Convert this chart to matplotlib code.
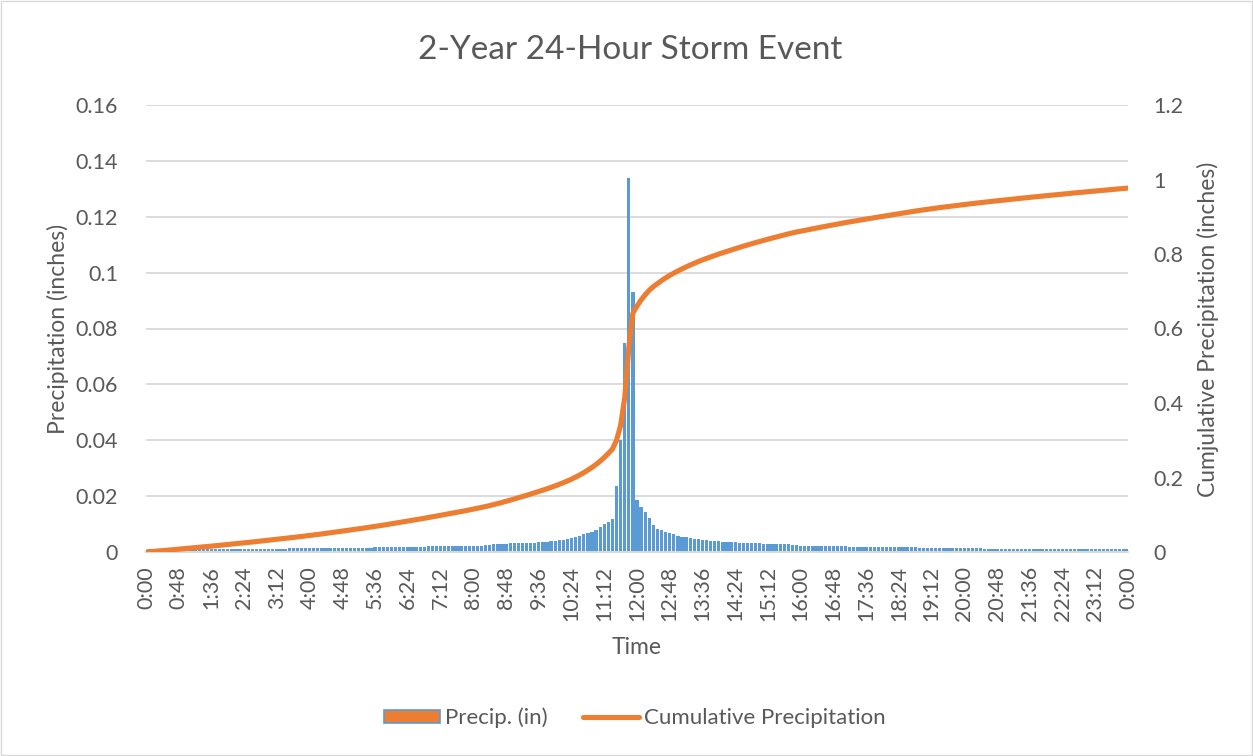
import numpy as np
import matplotlib
matplotlib.use("Agg")
import matplotlib.pyplot as plt
from matplotlib.patches import Patch, Rectangle
from matplotlib.lines import Line2D

# 6-minute rainfall increments (inches), 0:00 .. 24:00 (241 steps)
precip = [
    0.0,
    # 0:06 - 1:00
    0.0009, 0.0009, 0.0009, 0.0009, 0.0010, 0.0010, 0.0010, 0.0010, 0.0010, 0.0010,
    # 1:06 - 2:00
    0.0010, 0.0010, 0.0010, 0.0010, 0.0010, 0.0011, 0.0011, 0.0011, 0.0011, 0.0011,
    # 2:06 - 3:00
    0.0011, 0.0011, 0.0011, 0.0011, 0.0012, 0.0012, 0.0012, 0.0012, 0.0012, 0.0012,
    # 3:06 - 4:00
    0.0012, 0.0012, 0.0012, 0.0012, 0.0013, 0.0013, 0.0013, 0.0013, 0.0013, 0.0013,
    # 4:06 - 5:00
    0.0014, 0.0014, 0.0014, 0.0015, 0.0015, 0.0015, 0.0015, 0.0015, 0.0015, 0.0015,
    # 5:06 - 6:00
    0.0016, 0.0016, 0.0016, 0.0016, 0.0016, 0.0017, 0.0017, 0.0017, 0.0018, 0.0018,
    # 6:06 - 7:00
    0.0018, 0.0018, 0.0018, 0.0018, 0.0019, 0.0019, 0.0019, 0.0019, 0.0020, 0.0020,
    # 7:06 - 8:00
    0.0020, 0.0020, 0.0020, 0.0020, 0.0020, 0.0020, 0.0021, 0.0021, 0.0022, 0.0022,
    # 8:06 - 9:00
    0.0023, 0.0023, 0.0024, 0.0025, 0.0027, 0.0028, 0.0029, 0.0030, 0.0031, 0.0032,
    # 9:06 - 10:00
    0.0032, 0.0033, 0.0033, 0.0034, 0.0034, 0.0035, 0.0036, 0.0037, 0.0038, 0.0040,
    # 10:06 - 11:00
    0.0042, 0.0044, 0.0046, 0.0049, 0.0054, 0.0058, 0.0063, 0.0067, 0.0073, 0.0080,
    # 11:06 - 12:00
    0.0089, 0.0099, 0.0108, 0.0117, 0.0236, 0.0400, 0.0747, 0.1340, 0.0930, 0.0186,
    # 12:06 - 13:00
    0.0162, 0.0142, 0.0121, 0.0096, 0.0082, 0.0079, 0.0073, 0.0067, 0.0063, 0.0058,
    # 13:06 - 14:00
    0.0055, 0.0053, 0.0050, 0.0048, 0.0045, 0.0043, 0.0042, 0.0040, 0.0039, 0.0038,
    # 14:06 - 15:00
    0.0037, 0.0036, 0.0035, 0.0035, 0.0034, 0.0034, 0.0033, 0.0032, 0.0031, 0.0031,
    # 15:06 - 16:00
    0.0030, 0.0030, 0.0030, 0.0029, 0.0029, 0.0028, 0.0027, 0.0026, 0.0025, 0.0022,
    # 16:06 - 17:00
    0.0022, 0.0022, 0.0022, 0.0021, 0.0021, 0.0021, 0.0021, 0.0021, 0.0020, 0.0020,
    # 17:06 - 18:00
    0.0020, 0.0019, 0.0019, 0.0019, 0.0019, 0.0018, 0.0018, 0.0018, 0.0018, 0.0018,
    # 18:06 - 19:00
    0.0019, 0.0019, 0.0018, 0.0018, 0.0018, 0.0017, 0.0017, 0.0017, 0.0016, 0.0016,
    # 19:06 - 20:00
    0.0016, 0.0015, 0.0015, 0.0015, 0.0014, 0.0014, 0.0014, 0.0014, 0.0013, 0.0013,
    # 20:06 - 21:00
    0.0013, 0.0013, 0.0013, 0.0013, 0.0012, 0.0012, 0.0012, 0.0012, 0.0012, 0.0012,
    # 21:06 - 22:00
    0.0012, 0.0012, 0.0012, 0.0011, 0.0011, 0.0011, 0.0011, 0.0011, 0.0011, 0.0011,
    # 22:06 - 23:00
    0.0011, 0.0011, 0.0011, 0.0011, 0.0011, 0.0010, 0.0010, 0.0010, 0.0010, 0.0010,
    # 23:06 - 24:00
    0.0010, 0.0010, 0.0010, 0.0010, 0.0010, 0.0010, 0.0010, 0.0010, 0.0010, 0.0010,
]

# category labels h:mm every 6 minutes
time_labels = [f"{(6 * i // 60) % 24}:{(6 * i) % 60:02d}" for i in range(len(precip))]

left_ticks = [0, 0.02, 0.04, 0.06, 0.08, 0.1, 0.12, 0.14, 0.16]
right_ticks = [0, 0.2, 0.4, 0.6, 0.8, 1, 1.2]

BLUE = "#5B9BD5"
ORANGE = "#ED7D31"
TEXT = "#595959"
GRID = "#D9D9D9"

plt.rcParams["font.family"] = ["Lato", "DejaVu Sans"]

cumulative = np.cumsum(precip)
x = np.arange(len(precip))

fig = plt.figure(figsize=(12.53, 7.56), dpi=100)
ax = fig.add_axes([146 / 1253, 204 / 756, 982 / 1253, 447 / 756])
ax2 = ax.twinx()

ax.bar(x, precip, width=0.8, color=BLUE, zorder=2)
ax2.plot(x, cumulative, color=ORANGE, linewidth=3.7, solid_capstyle="round", zorder=3)

ax.set_xlim(0, len(precip) - 1)
ax.set_ylim(0, 0.16)
ax2.set_ylim(0, 1.2)

ax.set_yticks(left_ticks)
ax.set_yticklabels([f"{v:g}" for v in left_ticks])
ax2.set_yticks(right_ticks)
ax2.set_yticklabels([f"{v:g}" for v in right_ticks])

ax.set_xticks(x[::8])
ax.set_xticklabels(time_labels[::8], rotation=90, ha="center", va="top")

ax.grid(axis="y", color=GRID, linewidth=1.3, zorder=0)
ax.set_axisbelow(True)

for a in (ax, ax2):
    for side in ("top", "left", "right"):
        a.spines[side].set_visible(False)
    a.spines["bottom"].set_color(GRID)
    a.spines["bottom"].set_linewidth(1.3)
    a.tick_params(length=0, labelsize=15.5, colors=TEXT)

ax.tick_params(axis="y", pad=20)
ax2.tick_params(axis="y", pad=18)
ax.tick_params(axis="x", pad=10)

fig.text(630 / 1253, 1 - 50 / 756, "2-Year 24-Hour Storm Event",
         ha="center", va="center", fontsize=24, color=TEXT)
fig.text(637 / 1253, 1 - 648 / 756, "Time",
         ha="center", va="center", fontsize=16.5, color=TEXT)
fig.text(58 / 1253, 1 - 329 / 756, "Precipitation (inches)",
         ha="center", va="center", rotation=90, fontsize=16.5, color=TEXT)
fig.text(1208 / 1253, 1 - 329 / 756, "Cumjulative Precipitation (inches)",
         ha="center", va="center", rotation=90, fontsize=16.5, color=TEXT)

handles = [
    Patch(facecolor=ORANGE, edgecolor=BLUE, linewidth=1.2),
    Line2D([0], [0], color=ORANGE, linewidth=3.7, solid_capstyle="round"),
]
fig.legend(handles, ["Precip. (in)", "Cumulative Precipitation"],
           loc="center", bbox_to_anchor=(635 / 1253, 1 - 718 / 756), ncol=2,
           frameon=False, fontsize=16, labelcolor=TEXT,
           handlelength=2.5, handleheight=0.55, handletextpad=0.25, columnspacing=1.6)

fig.patches.append(Rectangle((0.0005, 0.0008), 0.999, 0.998, transform=fig.transFigure,
                             fill=False, edgecolor=GRID, linewidth=1))

fig.savefig("out.png", dpi=100)
